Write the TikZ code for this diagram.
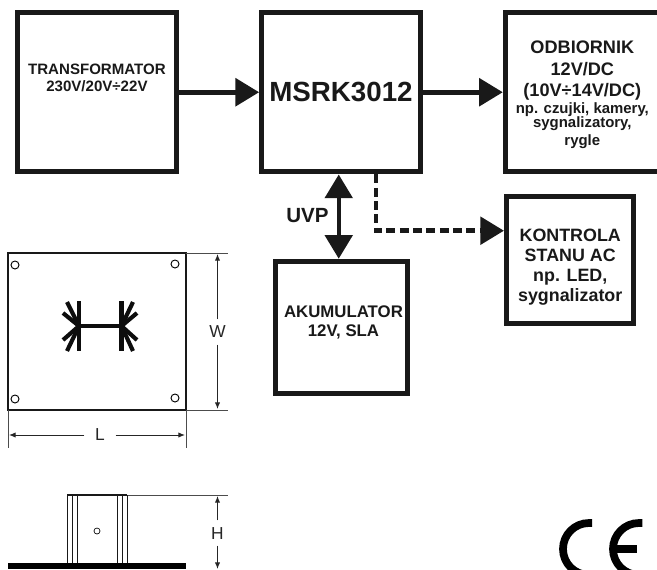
\documentclass[tikz,border=0pt]{standalone}
\usepackage{fontspec}
\setmainfont{Liberation Sans}
\usetikzlibrary{arrows.meta,positioning,calc}
\newcommand{\smalltxt}{\fontsize{11.2}{11.6}\selectfont}
\tikzset{
  blockbox/.style={draw=black!90,line width=3.75pt,align=center,text=black!90,inner sep=0pt,font=\bfseries\fontsize{11.3}{12.5}\selectfont},
  powerline/.style={line width=3.6pt,black!90,-{Triangle[length=17.8pt,width=20.5pt]}},
  thinline/.style={line width=.6pt,black!70},
  dimend/.style={line width=.7pt,black!85,-{Latex[length=5pt,width=4pt]}},
  dimtext/.style={font=\fontsize{13}{13}\selectfont,text=black!85},
  hole/.style={draw,circle,line width=.7pt,inner sep=0pt,minimum size=6pt},
}
\begin{document}
\begin{tikzpicture}[x=.75pt,y=-.75pt]
  \clip (0,0) rectangle (657,569);
  % top row
  \node[blockbox,minimum width=119.6pt,minimum height=119.6pt,anchor=north west] (trafo) at (14.7,10)
    {TRANSFORMATOR\\ 230V/20V÷22V\\[9pt]};
  \node[blockbox,minimum width=119pt,minimum height=119.6pt,right=60pt of trafo,font=\bfseries\fontsize{20.8}{22}\selectfont] (msrk) {MSRK3012};
  \node[blockbox,minimum width=115.5pt,minimum height=119.6pt,right=60pt of msrk,font=\bfseries\fontsize{13.6}{16}\selectfont] (odb)
    {\rule{0pt}{14pt}ODBIORNIK\\ 12V/DC\\ (10V÷14V/DC)\\[-3.5pt] {\smalltxt np. czujki, kamery,}\\[-5pt] {\smalltxt sygnalizatory,}\\[-2.5pt] {\smalltxt rygle}};
  % lower blocks
  \node[blockbox,minimum width=99pt,minimum height=99pt,below=63.2pt of msrk,font=\bfseries\fontsize{12.6}{14.5}\selectfont] (akum)
    {\hspace*{3.7pt}AKUMULATOR\\ \hspace*{3.7pt}12V, SLA\rule[-9pt]{0pt}{1pt}};
  \node[blockbox,minimum width=95.6pt,minimum height=95.3pt,anchor=north west,font=\bfseries\fontsize{13.4}{15}\selectfont] (ctrl) at (504,194.3)
    {\rule{0pt}{19.5pt}KONTROLA\\ STANU AC\\ np. LED,\\ sygnalizator};
  \draw[powerline] (trafo) -- (msrk);
  \draw[powerline] (msrk) -- (odb);
  \draw[line width=3.3pt,black!90,{Triangle[length=17.8pt,width=20.5pt]}-{Triangle[length=17.8pt,width=20.5pt]}] ([xshift=-1.7pt]msrk.south) -- node[left=6pt,font=\bfseries\fontsize{15.4}{16}\selectfont,text=black!90,yshift=.5pt,inner sep=0pt] (uvp) {UVP} ([xshift=-1.7pt]akum.north);
  \coordinate (acout) at ($(msrk.south)+(35,0)$);
  \draw[powerline,dash pattern=on 6.7pt off 3.3pt] (acout) |- ($(ctrl.north west)+(0,36.4)$);
  % top view of the housing
  \draw[line width=1.5pt,black!90] (8,253) rectangle (186,410);
  \foreach \hx/\hy in {15/265,175/264,15/399,175/398}
    \node[hole] at (\hx,\hy) {};
  \draw[line width=3.5pt,black!95] (79,301) -- (79,351) (121.5,301) -- (121.5,351) (79,326) -- (121.5,326);
  \foreach \sx/\sy in {67/302,63/313,63/340,67/351}
    \draw[line width=3.1pt,black!95] (79,326) -- (\sx,\sy);
  \foreach \sx/\sy in {133/302,137/313,137/340,133/351}
    \draw[line width=3.1pt,black!95] (121.5,326) -- (\sx,\sy);
  % dimensions
  \draw[thinline] (186,253) -- (228,253) (186,410) -- (228,410) (8,410) -- (8,448) (186,410) -- (186,448);
  \node[dimtext] (wlabel) at (217.5,332) {W};
  \node[dimtext] (llabel) at (100,435) {L};
  \node[dimtext] (hlabel) at (217.5,534) {H};
  \draw[dimend] (wlabel.north) ++(0,-2) -- (217.5,254);
  \draw[dimend] (wlabel.south) ++(0,2) -- (217.5,409);
  \draw[dimend] (llabel.west) ++(-6,0) -- (9,435);
  \draw[dimend] (llabel.east) ++(6,0) -- (185,435);
  \draw[dimend] (hlabel.north) ++(0,-3) -- (217.5,496);
  \draw[dimend] (hlabel.south) ++(0,1) -- (217.5,569);
  % side view
  \fill[black] (8,563) rectangle (186,569);
  \draw[thinline] (127,495) -- (228,495);
  \draw[line width=.9pt,black!90] (67,495) -- (127,495);
  \foreach \vx in {67.5,72.5,77,117.5,122,127}
    \draw[line width=.7pt,black!90] (\vx,495) -- (\vx,563);
  \node[hole,minimum size=4.5pt,line width=.5pt] at (97,531) {};
  % CE mark
  \draw[line width=5.8pt,black] (592,523) -- (589,523) arc[start angle=270,end angle=90,radius=26] -- (592,575);
  \draw[line width=5.8pt,black] (642.3,523) -- (639,523) arc[start angle=270,end angle=90,radius=26] -- (642.3,575);
  \draw[line width=6.5pt,black] (613,549) -- (636.7,549);
\end{tikzpicture}
\end{document}
